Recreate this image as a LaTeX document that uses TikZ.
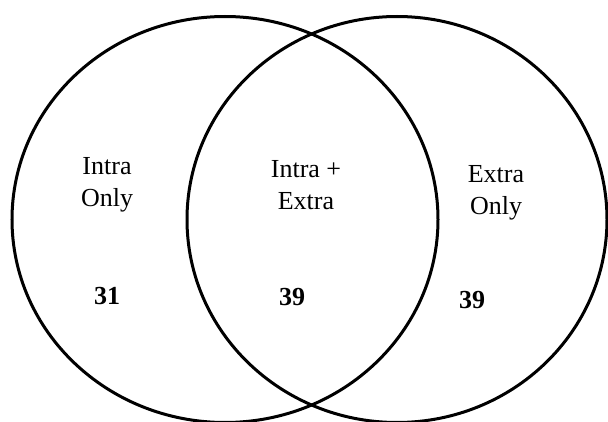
\documentclass[tikz,border=0pt]{standalone}
\usepackage{fontspec}
\setmainfont{Liberation Serif}
\begin{document}
\begin{tikzpicture}[x=1pt,y=-1pt,
  ring/.style={draw=black,line width=3pt},
  label/.style={font=\fontsize{26}{32}\selectfont,align=center,inner sep=0pt,anchor=north},
  count/.style={font=\fontsize{26}{32}\selectfont\bfseries,inner sep=0pt}]
  \useasboundingbox (0,0) rectangle (608,422);
  % the two overlapping sets
  \draw[ring] (225,219.5) ellipse [x radius=213,y radius=203];
  \draw[ring] (397,219.5) ellipse [x radius=210,y radius=203];
  % region labels
  \node[label] (intra) at (107,157.5) {Intra\\Only};
  \node[label] (both)  at (306,160) {Intra +\\Extra};
  \node[label] (extra) at (496,165) {Extra\\Only};
  % region counts
  \node[count] (nintra) at (107,296) {31};
  \node[count] (nboth)  at (292,297) {39};
  \node[count] (nextra) at (472,300) {39};
\end{tikzpicture}
\end{document}
